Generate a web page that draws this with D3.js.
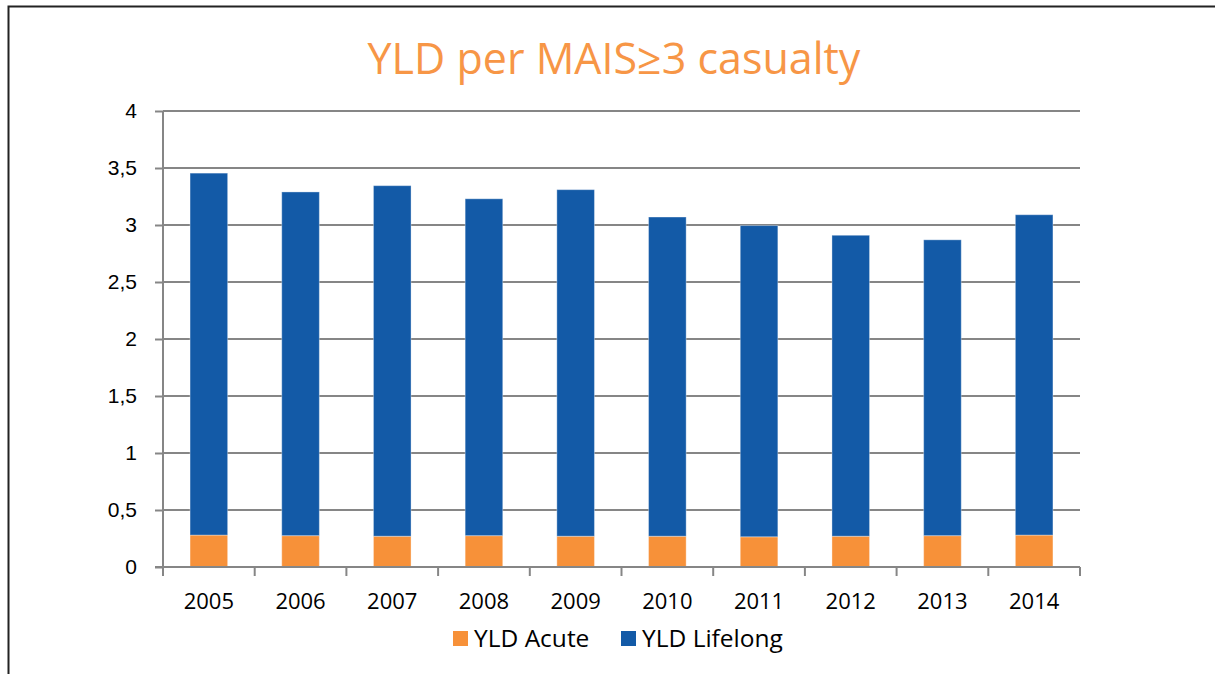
<!DOCTYPE html>
<html>
<head>
<meta charset="utf-8">
<script src="https://cdn.jsdelivr.net/npm/d3@7/dist/d3.min.js"></script>
<style>
  body { margin: 0; background: #fff; }
  svg { display: block; font-family: "Open Sans", "Noto Sans", sans-serif; }
</style>
</head>
<body>
<div id="chart"></div>
<script>
// values
var years = ["2005", "2006", "2007", "2008", "2009", "2010", "2011", "2012", "2013", "2014"];
var acute = [0.28, 0.275, 0.27, 0.275, 0.27, 0.27, 0.265, 0.27, 0.275, 0.28];
var lifelong = [3.175, 3.015, 3.075, 2.955, 3.04, 2.80, 2.73, 2.64, 2.595, 2.81];
var yTicks = [0, 0.5, 1, 1.5, 2, 2.5, 3, 3.5, 4];
var seriesNames = ["YLD Acute", "YLD Lifelong"];
var colors = ["#F79139", "#135AA7"];

var svgWidth = 1215, svgHeight = 674;
var margin = { top: 111, right: 135, bottom: 107, left: 163 };
var width = svgWidth - margin.left - margin.right;
var height = svgHeight - margin.top - margin.bottom;

var svg = d3.select("#chart").append("svg")
  .attr("width", svgWidth)
  .attr("height", svgHeight);

// slide frame
svg.append("path")
  .attr("d", "M8.5,674 V6.5 H1215")
  .attr("fill", "none")
  .attr("stroke", "#222")
  .attr("stroke-width", 2);

svg.append("text")
  .attr("x", 614)
  .attr("y", 74)
  .attr("text-anchor", "middle")
  .attr("fill", "#F79646")
  .style("font-size", "43px")
  .text("YLD per MAIS\u22653 casualty");

var chartGroup = svg.append("g")
  .attr("transform", `translate(${margin.left}, ${margin.top})`);

var data = years.map(function(y, i) {
  return { year: y, acute: acute[i], lifelong: lifelong[i] };
});

var x = d3.scaleBand().domain(years).range([0, width]);
var y = d3.scaleLinear().domain([0, 4]).range([height, 0]);

// gridlines
chartGroup.append("g")
  .selectAll("line")
  .data(yTicks.slice(1))
  .enter()
  .append("line")
  .attr("x1", 0)
  .attr("x2", width)
  .attr("y1", d => y(d))
  .attr("y2", d => y(d))
  .attr("stroke", "#868686")
  .attr("stroke-width", 2);

var fmt = d => String(d).replace(".", ",");

var leftAxis = d3.axisLeft(y).tickValues(yTicks).tickFormat(fmt).tickSize(8).tickPadding(18);
var yAxisG = chartGroup.append("g").call(leftAxis);
yAxisG.select(".domain").attr("stroke", "#868686").attr("stroke-width", 2).attr("d", `M0,${height}V0`);
yAxisG.selectAll(".tick line").attr("stroke", "#868686").attr("stroke-width", 2);
yAxisG.selectAll(".tick text").attr("fill", "#000").style("font-size", "21px").attr("font-family", null);

// stacked bars
var stack = d3.stack().keys(["acute", "lifelong"]);
var layers = stack(data);
var barW = x.bandwidth() * 0.41;

chartGroup.selectAll(".layer")
  .data(layers)
  .enter()
  .append("g")
  .attr("class", "layer")
  .attr("fill", (d, i) => colors[i])
  .selectAll("rect")
  .data(d => d)
  .enter()
  .append("rect")
  .attr("x", d => x(d.data.year) + (x.bandwidth() - barW) / 2)
  .attr("y", d => y(d[1]))
  .attr("width", barW)
  .attr("height", d => y(d[0]) - y(d[1]))
  .attr("stroke", "rgba(255,255,255,0.35)")
  .attr("stroke-width", 1);

// x axis with ticks at band edges
var xAxisG = chartGroup.append("g").attr("transform", `translate(0, ${height})`);
xAxisG.append("line")
  .attr("x1", -8).attr("x2", width)
  .attr("stroke", "#868686").attr("stroke-width", 2);
xAxisG.selectAll(".edge")
  .data(years.concat(["end"]))
  .enter()
  .append("line")
  .attr("x1", (d, i) => i * x.step())
  .attr("x2", (d, i) => i * x.step())
  .attr("y1", 0).attr("y2", 9)
  .attr("stroke", "#868686").attr("stroke-width", 2);
xAxisG.selectAll(".lab")
  .data(years)
  .enter()
  .append("text")
  .attr("x", d => x(d) + x.bandwidth() / 2)
  .attr("y", 42)
  .attr("text-anchor", "middle")
  .style("font-size", "22px")
  .text(d => d);

// legend
var legend = svg.append("g").attr("transform", "translate(453, 631)");
var legX = [0, 168];
seriesNames.forEach(function(name, i) {
  legend.append("rect")
    .attr("x", legX[i]).attr("y", 0)
    .attr("width", 15).attr("height", 15)
    .attr("fill", colors[i]);
  legend.append("text")
    .attr("x", legX[i] + 21).attr("y", 16)
    .style("font-size", "24.5px")
    .text(name);
});
</script>
</body>
</html>
